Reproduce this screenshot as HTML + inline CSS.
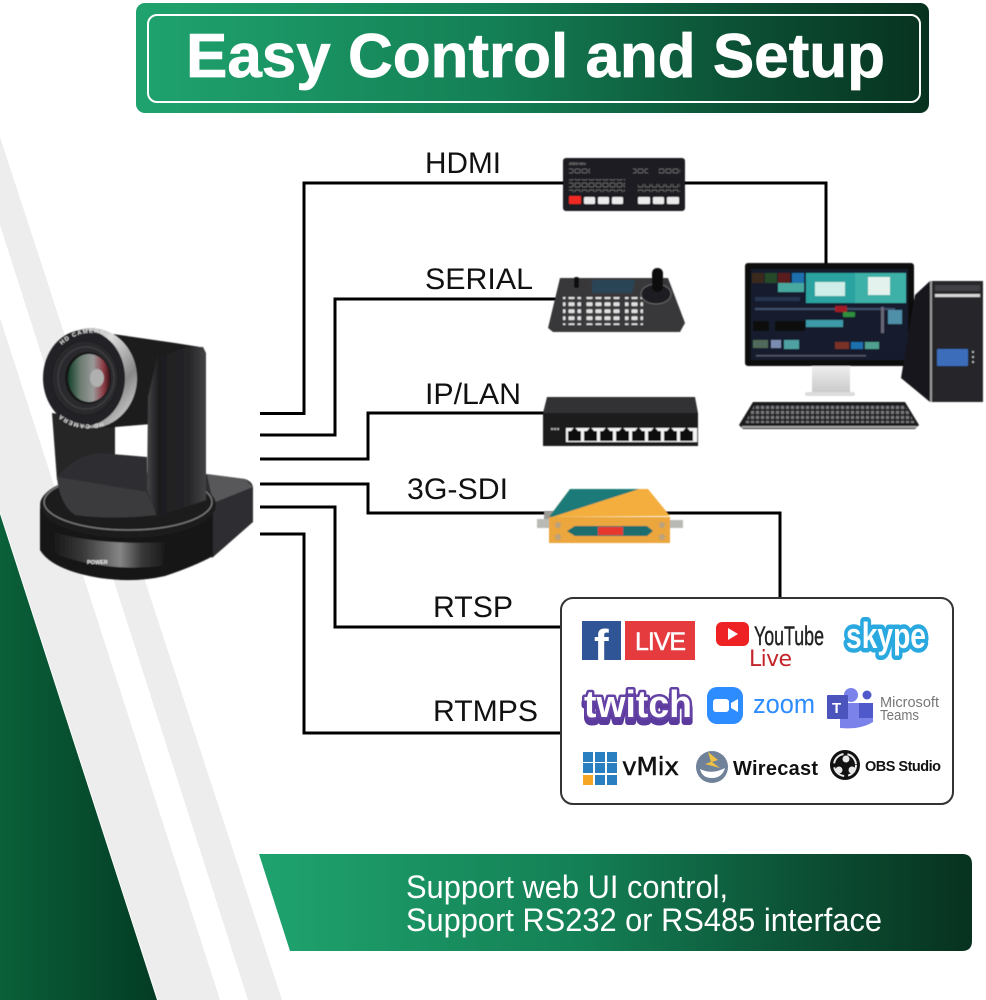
<!DOCTYPE html>
<html><head><meta charset="utf-8"><title>Easy Control and Setup</title>
<style>html,body{margin:0;padding:0;background:#fff}svg{display:block}text{font-family:"Liberation Sans",sans-serif}</style></head>
<body>
<svg xmlns="http://www.w3.org/2000/svg" width="986" height="1000" viewBox="0 0 986 1000">
<defs>
<filter id="soft" x="-5%" y="-5%" width="110%" height="110%"><feGaussianBlur stdDeviation=".45"/></filter>
<linearGradient id="bn" x1="0" x2="1" y1="0" y2="0"><stop offset="0" stop-color="#1fa36e"/><stop offset=".45" stop-color="#148055"/><stop offset=".75" stop-color="#0c5236"/><stop offset="1" stop-color="#07321f"/></linearGradient>
<linearGradient id="gr" x1="0" x2="1" y1="0" y2="0"><stop offset="0" stop-color="#0a6039"/><stop offset="1" stop-color="#033c24"/></linearGradient>
<linearGradient id="body" x1="0" x2="1" y1="0" y2="0"><stop offset="0" stop-color="#111"/><stop offset=".3" stop-color="#383838"/><stop offset=".62" stop-color="#858585"/><stop offset=".8" stop-color="#3a3a3a"/><stop offset="1" stop-color="#1a1a1a"/></linearGradient>
<linearGradient id="arm" x1="0" x2="1" y1="0" y2="0"><stop offset="0" stop-color="#454547"/><stop offset=".2" stop-color="#1d1d1f"/><stop offset=".7" stop-color="#262628"/><stop offset="1" stop-color="#434345"/></linearGradient>
<linearGradient id="ring" x1="0" x2="1" y1="0" y2="1"><stop offset="0" stop-color="#666"/><stop offset=".4" stop-color="#ddd"/><stop offset=".7" stop-color="#888"/><stop offset="1" stop-color="#eee"/></linearGradient>
<linearGradient id="stand" x1="0" x2="0" y1="0" y2="1"><stop offset="0" stop-color="#eee"/><stop offset="1" stop-color="#c9c9c9"/></linearGradient>
<linearGradient id="glass" x1="0" x2="1" y1="0" y2="0"><stop offset="0" stop-color="#14402a"/><stop offset=".3" stop-color="#6d7d72"/><stop offset=".6" stop-color="#9a9a9a"/><stop offset=".85" stop-color="#8c3a44"/><stop offset="1" stop-color="#3a1218"/></linearGradient>
<pattern id="sw" width="7" height="7" patternUnits="userSpaceOnUse"><rect width="7" height="7" fill="#1c1c20"/><rect x="1" y="1" width="5" height="4" rx="1" fill="#1c1c20" stroke="#777" stroke-width=".7"/></pattern>
<pattern id="kb" width="5" height="5" patternUnits="userSpaceOnUse"><rect width="5" height="5" fill="#1b1b1d"/><rect x=".8" y=".8" width="3.4" height="3.2" fill="#77787c"/></pattern>
<pattern id="ckb" width="9" height="7" patternUnits="userSpaceOnUse"><rect width="9" height="7" fill="#3a3a3c"/><rect x="1.500" y="1.300" width="6" height="3.800" rx=".8" fill="#e0e0e0"/></pattern>
<path id="hd1" d="M62,345 A44,46 0 0 1 108,336"/>
<path id="hd2" d="M103,422 A46,48 0 0 1 60,414"/>
</defs>

<rect width="986" height="1000" fill="#fff"/>
<!-- background stripes -->
<polygon points="0,137 282,1000 248,1000 0,225" fill="#ededee"/>
<polygon points="0,318 220,1000 158,1000 0,511" fill="#ededee"/>
<polygon points="0,514 157,1000 0,1000" fill="url(#gr)"/>

<!-- top banner -->
<rect x="136" y="3" width="793" height="110" rx="9" fill="url(#bn)"/>
<rect x="148" y="15" width="772" height="87" rx="9" fill="none" stroke="#fff" stroke-width="2"/>
<text x="186" y="77" font-size="62" font-weight="700" fill="#fff" stroke="#fff" stroke-width=".7" textLength="699" lengthAdjust="spacing">Easy Control and Setup</text>

<!-- connectors -->
<g fill="none" stroke="#000" stroke-width="3">
<path d="M260,413.500H304V183H826V264"/>
<path d="M260,435H335V299H556"/>
<path d="M260,459H368V413H546"/>
<path d="M260,484H368V513H780V599"/>
<path d="M260,507H335V627H562"/>
<path d="M260,534H304V733H562"/>
</g>
<g font-size="30" fill="#111">
<text x="425" y="173" textLength="76" lengthAdjust="spacingAndGlyphs">HDMI</text>
<text x="425" y="289" textLength="108" lengthAdjust="spacingAndGlyphs">SERIAL</text>
<text x="425" y="404" textLength="96" lengthAdjust="spacingAndGlyphs">IP/LAN</text>
<text x="407" y="499" textLength="101" lengthAdjust="spacingAndGlyphs">3G-SDI</text>
<text x="433" y="617" textLength="80" lengthAdjust="spacingAndGlyphs">RTSP</text>
<text x="433" y="721" textLength="105" lengthAdjust="spacingAndGlyphs">RTMPS</text>
</g>

<!-- camera -->
<g filter="url(#soft)">
<path d="M205,474 L245,479 Q253,482 253,488 L253,522 L212,558 L190,520Z" fill="#2e2e30"/>
<path d="M207,474 L245,479 L253,487 L213,503Z" fill="#58585a"/>
<path d="M40,508 L40,550 Q52,570 100,578 Q135,583 165,576 Q195,566 213,556 L213,512Z" fill="#131314"/>
<path d="M47,530 Q95,546 165,542 L163,566 Q110,572 60,556 Q50,548 47,530Z" fill="url(#body)"/>
<ellipse cx="128" cy="505" rx="88" ry="33" fill="#1b1b1c"/>
<ellipse cx="128" cy="502" rx="84" ry="28" fill="none" stroke="#777" stroke-width="1.500"/>
<polygon points="52,413 115,423 115,480 57,480" fill="#252527"/>
<path d="M57,477 Q75,455 100,453 L147,457 L147,495 L157,515 Q110,520 75,515 Q60,505 57,477Z" fill="#2f2f31"/>
<path d="M57,477 L147,492 L157,515 Q110,520 75,515 Q60,505 57,477Z" fill="#3a3a3c"/>
<path d="M85,330 L175,343 L200,347 L200,420 L115,427 L85,428Z" fill="#1a1a1c"/>
<path d="M148,397 L157,357 L187,347 L203,347 L206,353 L206,500 L157,517 L147,490Z" fill="url(#arm)"/>
<ellipse cx="91" cy="378" rx="46" ry="50" fill="url(#ring)"/>
<ellipse cx="84" cy="378" rx="41" ry="48" fill="#232325"/>
<ellipse cx="85" cy="378" rx="33" ry="37" fill="#2c2c2e" stroke="#1a1a1a" stroke-width="1"/>
<ellipse cx="86" cy="378" rx="28" ry="31" fill="none" stroke="#3c3c3e" stroke-width="1.500"/>
<ellipse cx="88" cy="378" rx="23" ry="26" fill="#151517"/>
<ellipse cx="89" cy="378" rx="21" ry="24" fill="url(#glass)"/>
<ellipse cx="97" cy="378" rx="7" ry="9" fill="#b0b0b0"/>
<text font-size="6" font-weight="700" fill="#ddd" letter-spacing="1"><textPath href="#hd1">HD CAMERA</textPath></text>
<text font-size="6" font-weight="700" fill="#ddd" letter-spacing="1"><textPath href="#hd2">HD CAMERA</textPath></text>
<text x="87" y="564" font-size="5.500" font-weight="700" fill="#eee">POWER</text>
</g>

<g filter="url(#soft)">
<!-- HDMI switcher -->
<rect x="563" y="158" width="122" height="53" rx="3" fill="#1c1c20"/>
<text x="569" y="165" font-size="3.500" fill="#aaa">ATEM Mini</text>
<rect x="569" y="167" width="21" height="7" fill="url(#sw)"/>
<rect x="569" y="179" width="56" height="13" fill="url(#sw)"/>
<rect x="633" y="168" width="15" height="7" fill="url(#sw)"/>
<rect x="638" y="184" width="42" height="8" fill="url(#sw)"/>
<rect x="659" y="168" width="21" height="7" fill="url(#sw)"/>
<rect x="569" y="196" width="12" height="8" rx="1" fill="#f02a20"/>
<g fill="#ececec"><rect x="584" y="197" width="11" height="7" rx="1"/><rect x="598" y="197" width="11" height="7" rx="1"/><rect x="612" y="197" width="11" height="7" rx="1"/><rect x="638" y="197" width="12" height="7" rx="1"/><rect x="653" y="197" width="11" height="7" rx="1"/><rect x="667" y="197" width="12" height="7" rx="1"/></g>

<!-- PTZ controller -->
<polygon points="548,328 560,278 668,278 685,323 680,332 553,332" fill="#38383a"/>
<polygon points="592,280 635,280 632,293 592,293" fill="#2b4557"/>
<rect x="563" y="297" width="18" height="28" fill="url(#ckb)"/>
<rect x="584" y="297" width="36" height="28" fill="url(#ckb)"/>
<rect x="625" y="297" width="18" height="28" fill="url(#ckb)"/>
<ellipse cx="656" cy="294" rx="15" ry="10" fill="#1f1f21" stroke="#666"/>
<rect x="652" y="268" width="11" height="24" rx="5" fill="#0b0b0c"/>
<rect x="574" y="277" width="5" height="11" rx="2" fill="#111"/>

<!-- switch -->
<polygon points="547,397 695,397 698,413 543,413" fill="#333335"/>
<rect x="543" y="413" width="155" height="33" fill="#1b1b1c"/>
<rect x="566" y="428" width="131" height="14" fill="#f4f4f4"/>
<g fill="#0c0c0c">
<rect x="568" y="431" width="13" height="10"/><rect x="584" y="431" width="13" height="10"/><rect x="600" y="431" width="13" height="10"/><rect x="616" y="431" width="13" height="10"/><rect x="632" y="431" width="13" height="10"/><rect x="648" y="431" width="13" height="10"/><rect x="664" y="431" width="13" height="10"/><rect x="680" y="431" width="13" height="10"/>
<polygon points="571,431 574.500,427 578,431"/><polygon points="587,431 590.500,427 594,431"/><polygon points="603,431 606.500,427 610,431"/><polygon points="619,431 622.500,427 626,431"/><polygon points="635,431 638.500,427 642,431"/><polygon points="651,431 654.500,427 658,431"/><polygon points="667,431 670.500,427 674,431"/><polygon points="683,431 686.500,427 690,431"/>
</g>
<g fill="#aaa"><rect x="551" y="428" width="2" height="2"/><rect x="554" y="428" width="2" height="2"/><rect x="557" y="428" width="2" height="2"/></g>

<!-- SDI converter -->
<rect x="537" y="519" width="13" height="9" fill="#b9b9b5"/><rect x="544" y="511" width="9" height="8" fill="#9a9a96"/>
<rect x="670" y="520" width="13" height="8" fill="#b9b9b5"/>
<polygon points="570,489 648,489 670,516 549,517" fill="#f3ae3d"/>
<polygon points="570,489 639,489 552,517 549,517" fill="#1f7a78"/>
<rect x="549" y="517" width="121" height="26" fill="#eba63c"/>
<polygon points="567,531 575,526 647,526 653,531 647,536 575,536" fill="#1f6e6e"/>
<rect x="598" y="527" width="25" height="8" fill="#e8392f"/>
<g fill="#b9a27c"><circle cx="558" cy="525" r="3"/><circle cx="558" cy="537" r="3"/><circle cx="662" cy="525" r="3"/><circle cx="662" cy="537" r="3"/></g>

<!-- monitor -->
<rect x="812" y="366" width="38" height="27" fill="url(#stand)"/>
<rect x="805" y="392" width="50" height="4" rx="2" fill="#dcdcdc"/>
<rect x="745" y="263" width="169" height="103" rx="3" fill="#0c0c0e"/>
<rect x="751" y="269" width="157" height="91" fill="#121b2e"/>
<rect x="806" y="273" width="49" height="30" fill="#29a3a0"/>
<rect x="855" y="273" width="51" height="30" fill="#3db0a8"/>
<rect x="815" y="282" width="30" height="14" fill="#cfeee9"/>
<rect x="868" y="277" width="22" height="18" fill="#e3f2ec"/>
<rect x="752" y="273" width="12" height="10" fill="#3a2a1f"/><rect x="765" y="273" width="12" height="10" fill="#274a2a"/><rect x="778" y="273" width="12" height="10" fill="#5a1a1a"/><rect x="792" y="273" width="12" height="10" fill="#1d6fae"/>
<rect x="778" y="283" width="26" height="9" fill="#47a8a0"/>
<rect x="755" y="297" width="45" height="4" fill="#26344e"/>
<rect x="755" y="308" width="140" height="2" fill="#40506c"/>
<rect x="835" y="306" width="12" height="6" rx="1" fill="#a21e28"/><rect x="843" y="312" width="12" height="5" rx="1" fill="#2f8f3c"/>
<rect x="806" y="320" width="37" height="7" fill="#3d9aa8"/>
<rect x="753" y="321" width="16" height="10" fill="#0b0b10"/><rect x="775" y="321" width="30" height="10" fill="#0b0b10"/>
<rect x="881" y="307" width="3" height="26" fill="#667"/><rect x="888" y="310" width="14" height="14" fill="#4f8fa8"/>
<rect x="753" y="340" width="15" height="8" fill="#506a5a"/><rect x="771" y="340" width="10" height="8" fill="#7a8db0"/><rect x="784" y="340" width="15" height="9" fill="#4fa0a0"/>
<rect x="835" y="342" width="14" height="7" fill="#7a3026"/><rect x="851" y="342" width="12" height="7" fill="#1d6fae"/><rect x="865" y="342" width="14" height="7" fill="#4fa090"/>
<rect x="756" y="355" width="110" height="1.500" fill="#556"/>

<!-- keyboard -->
<polygon points="753,402 905,402 919,425 915,429 743,429 739,425" fill="#1b1b1d"/>
<polygon points="755,404 904,404 915,423 745,423" fill="url(#kb)"/>
<rect x="742" y="426" width="175" height="2" fill="#a7a7a9"/>

<!-- tower -->
<polygon points="930,281 915,295 901,378 930,402" fill="#15161a"/>
<rect x="930" y="281" width="53" height="121" fill="#26272c"/>
<rect x="930" y="281" width="2" height="121" fill="#999"/>
<rect x="935" y="294" width="45" height="3" fill="#d5d5d5"/>
<rect x="935" y="285" width="45" height="6" fill="#3f4045"/>
<rect x="937" y="349" width="31" height="17" rx="1" fill="#3a6dbb"/>
<g fill="#ccc"><circle cx="973" cy="352" r="1"/><circle cx="973" cy="357" r="1"/><circle cx="973" cy="362" r="1"/></g>
</g>

<!-- logos box -->
<rect x="561" y="598" width="392" height="206" rx="12" fill="#fff" stroke="#333" stroke-width="2"/>
<!-- Facebook Live -->
<rect x="582" y="621" width="39" height="39" fill="#2f5597"/>
<text x="594" y="660" font-size="44" font-weight="700" fill="#fff">f</text>
<rect x="625" y="621" width="70" height="39" fill="#e53a3e"/>
<text x="635" y="650" font-size="25" fill="#fff" stroke="#fff" stroke-width=".5" textLength="51" lengthAdjust="spacing">LIVE</text>
<!-- YouTube -->
<rect x="716" y="622" width="33" height="24" rx="6" fill="#ee2224"/>
<polygon points="728,628 728,640 738,634" fill="#fff"/>
<text x="754" y="645" font-size="27" fill="#222" textLength="70" lengthAdjust="spacingAndGlyphs" stroke="#222" stroke-width=".4">YouTube</text>
<text x="749" y="666" font-size="22" fill="#c3242a" textLength="43" style="font-family:'DejaVu Sans',sans-serif">Live</text>
<!-- Skype -->
<text x="846" y="648" font-size="36" font-weight="700" fill="#fff" stroke="#2aa8e0" stroke-width="9" stroke-linejoin="round" paint-order="stroke" textLength="80" lengthAdjust="spacingAndGlyphs">skype</text>
<!-- Twitch -->
<text x="584" y="722" font-size="38" font-weight="700" fill="#5a3a9c" stroke="#5a3a9c" stroke-width="6" stroke-linejoin="round" textLength="108" lengthAdjust="spacingAndGlyphs">twitch</text>
<text x="584" y="717" font-size="38" font-weight="700" fill="#fff" stroke="#6441a4" stroke-width="5" paint-order="stroke" stroke-linejoin="round" textLength="108" lengthAdjust="spacingAndGlyphs">twitch</text>
<!-- Zoom -->
<rect x="707" y="687" width="36" height="37" rx="10" fill="#2d8cff"/>
<rect x="713" y="699" width="16" height="13" rx="3" fill="#fff"/>
<polygon points="731,703 738,699 738,712 731,708" fill="#fff"/>
<text x="753" y="713" font-size="27" fill="#2d8cff" textLength="62" lengthAdjust="spacingAndGlyphs">zoom</text>
<!-- Teams -->
<circle cx="851" cy="695" r="7" fill="#7b83eb"/><circle cx="867" cy="695" r="4.500" fill="#5059c9"/>
<path d="M840,703H873V722Q860,730 840,728Z" fill="#7b83eb"/>
<path d="M859,703H873V718L859,718Z" fill="#5059c9"/>
<rect x="827" y="695" width="21" height="24" rx="1" fill="#4b53bc"/>
<text x="832" y="713" font-size="15" font-weight="700" fill="#fff">T</text>
<text x="880" y="707" font-size="15" fill="#777" textLength="59" lengthAdjust="spacingAndGlyphs">Microsoft</text>
<text x="880" y="720" font-size="15" fill="#777" textLength="39" lengthAdjust="spacingAndGlyphs">Teams</text>
<!-- vMix -->
<g fill="#2a7fc1"><rect x="583" y="752" width="10" height="10"/><rect x="595" y="752" width="10" height="10"/><rect x="607" y="752" width="10" height="10"/><rect x="583" y="763" width="10" height="10"/><rect x="595" y="763" width="10" height="10"/><rect x="607" y="763" width="10" height="10"/><rect x="595" y="775" width="10" height="10"/><rect x="607" y="775" width="10" height="10"/></g>
<rect x="583" y="775" width="10" height="10" fill="#f5a623"/>
<text x="622" y="775" font-size="25" fill="#111" textLength="57" stroke="#111" stroke-width=".5" style="font-family:'DejaVu Sans',sans-serif">vMix</text>
<!-- Wirecast -->
<circle cx="712" cy="767" r="16" fill="#6f8299"/>
<path d="M700,769 Q712,775 725,768 Q722,778 712,778 Q702,778 700,769Z" fill="#fff"/>
<polygon points="708,752 718,760 712,762 720,768 705,764 711,762" fill="#f0c243"/>
<text x="733" y="775" font-size="20" font-weight="700" fill="#111" textLength="85">Wirecast</text>
<!-- OBS -->
<circle cx="845" cy="765" r="15" fill="#111"/>
<circle cx="845" cy="765" r="11" fill="none" stroke="#e8e8e8" stroke-width="2" stroke-dasharray="14 4"/>
<circle cx="846" cy="759" r="3.500" fill="#e8e8e8"/><circle cx="839" cy="770" r="3.500" fill="#e8e8e8"/><circle cx="852" cy="770" r="3.500" fill="#e8e8e8"/>
<text x="865" y="771" font-size="14.500" font-weight="700" fill="#111" textLength="76">OBS Studio</text>

<!-- bottom banner -->
<path d="M259,854H962Q972,854 972,864V941Q972,951 962,951H290Z" fill="url(#bn)"/>
<text x="406" y="898" font-size="32" fill="#fff" textLength="322" lengthAdjust="spacingAndGlyphs">Support web UI control,</text>
<text x="406" y="931" font-size="32" fill="#fff" textLength="476" lengthAdjust="spacingAndGlyphs">Support RS232 or RS485 interface</text>
</svg>
</body></html>
